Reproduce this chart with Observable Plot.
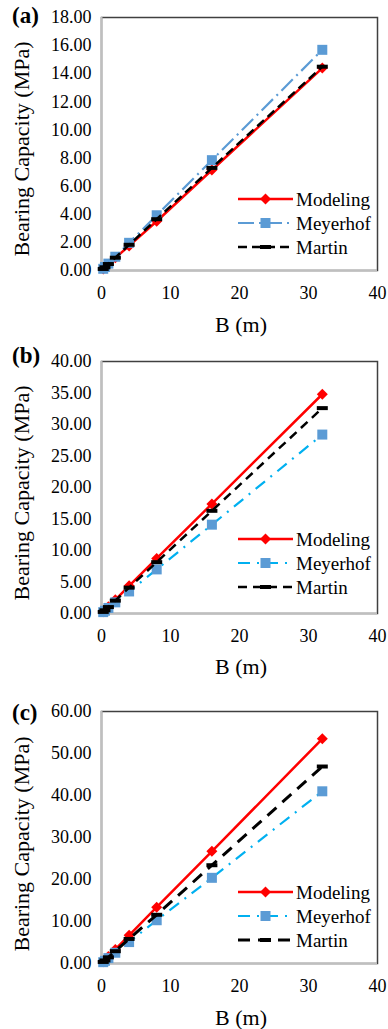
<!DOCTYPE html>
<html>
<head>
<meta charset="utf-8">
<script src="https://cdn.jsdelivr.net/npm/d3@7"></script>
<script src="https://cdn.jsdelivr.net/npm/@observablehq/plot@0.6"></script>
<style>
  body { margin: 0; background: #fff; font-family: "Liberation Serif", "DejaVu Serif", serif; }
  #root { position: relative; width: 388px; }
  .panel { position: relative; width: 388px; }
  .panel > svg { display: block; }
  .plabel { position: absolute; font-weight: bold; font-size: 23px; color: #000; line-height: 1; font-family: "Liberation Serif", serif; }
  .ylabel { position: absolute; font-size: 22px; color: #000; white-space: nowrap; transform: translate(-50%, -50%) rotate(-90deg); line-height: 1; font-family: "Liberation Serif", serif; }
  .xlabel { position: absolute; font-size: 22px; color: #000; white-space: nowrap; transform: translate(-50%, -50%); line-height: 1; font-family: "Liberation Serif", serif; }
  .lrow { position: absolute; display: flex; align-items: center; white-space: nowrap; font-size: 19px; color: #000; line-height: 1; font-family: "Liberation Serif", serif; }
  .lrow svg { display: block; margin-right: 3px; }
</style>
</head>
<body>
<div id="root"></div>
<script>
// ---------- data ----------
const B = [0.25, 0.5, 1, 2, 4, 8, 16, 32];
const seriesNames = ["Modeling", "Meyerhof", "Martin"];
const panelLabels = ["(a)", "(b)", "(c)"];

const modelingA = [0.11, 0.22, 0.45, 0.9, 1.75, 3.5, 7.15, 14.4];
const meyerhofA = [0.12, 0.25, 0.49, 0.98, 1.97, 3.93, 7.85, 15.7];
const martinA   = [0.11, 0.23, 0.46, 0.91, 1.83, 3.65, 7.3, 14.5];

const modelingB = [0.27, 0.55, 1.09, 2.18, 4.4, 8.75, 17.4, 34.8];
const meyerhofB = [0.22, 0.44, 0.88, 1.77, 3.5, 7.0, 14.1, 28.4];
const martinB   = [0.25, 0.51, 1.02, 2.04, 4.1, 8.15, 16.3, 32.6];

const modelingC = [0.42, 0.84, 1.68, 3.35, 6.7, 13.4, 26.7, 53.5];
const meyerhofC = [0.32, 0.64, 1.28, 2.56, 5.1, 10.3, 20.4, 41.0];
const martinC   = [0.37, 0.73, 1.47, 2.93, 5.85, 11.6, 23.4, 46.9];

const yTicksA = [0, 2, 4, 6, 8, 10, 12, 14, 16, 18];
const yTicksB = [0, 5, 10, 15, 20, 25, 30, 35, 40];
const yTicksC = [0, 10, 20, 30, 40, 50, 60];
const xTicks = [0, 10, 20, 30, 40];

// ---------- styles ----------
const FONT = '"Liberation Serif", serif';
const diamondSym = { draw(ctx) { const s = 5.5; ctx.moveTo(0, -s); ctx.lineTo(s, 0); ctx.lineTo(0, s); ctx.lineTo(-s, 0); ctx.closePath(); } };
const squareSym = { draw(ctx) { const s = 5; ctx.moveTo(-s, -s); ctx.lineTo(s, -s); ctx.lineTo(s, s); ctx.lineTo(-s, s); ctx.closePath(); } };
const barSym = { draw(ctx) { const w = 5.5, h = 2; ctx.moveTo(-w, -h); ctx.lineTo(w, -h); ctx.lineTo(w, h); ctx.lineTo(-w, h); ctx.closePath(); } };

const panels = [
  {
    label: panelLabels[0], data: [modelingA, meyerhofA, martinA], yTicks: yTicksA,
    height: 340, mt: 17, mb: 70, labelTop: 4, yLabelY: 149, xLabelY: 325, legendTop: 199,
    styles: [
      { stroke: "#FF0000", width: 2.5, dash: null, fill: "#FF0000", sym: diamondSym },
      { stroke: "#5B9BD5", width: 2.2, dash: "16,5,2,5", fill: "#5B9BD5", sym: squareSym },
      { stroke: "#000000", width: 2.5, dash: "9,5", fill: "#000000", sym: barSym }
    ]
  },
  {
    label: panelLabels[1], data: [modelingB, meyerhofB, martinB], yTicks: yTicksB,
    height: 340, mt: 21, mb: 67, labelTop: 4, yLabelY: 153, xLabelY: 327, legendTop: 199,
    styles: [
      { stroke: "#FF0000", width: 2.5, dash: null, fill: "#FF0000", sym: diamondSym },
      { stroke: "#00B0F0", width: 2.2, dash: "12,7,2,7", fill: "#5B9BD5", sym: squareSym },
      { stroke: "#000000", width: 2.5, dash: "9,6", fill: "#000000", sym: barSym }
    ]
  },
  {
    label: panelLabels[2], data: [modelingC, meyerhofC, martinC], yTicks: yTicksC,
    height: 349, mt: 31, mb: 66, labelTop: 21, yLabelY: 164, xLabelY: 338, legendTop: 212,
    styles: [
      { stroke: "#FF0000", width: 2.5, dash: null, fill: "#FF0000", sym: diamondSym },
      { stroke: "#00B0F0", width: 2.2, dash: "12,7,2,7", fill: "#5B9BD5", sym: squareSym },
      { stroke: "#000000", width: 3, dash: "12,8", fill: "#000000", sym: barSym }
    ]
  }
];

const root = document.getElementById("root");
const W = 388, ML = 101, MR = 11;

panels.forEach(p => {
  const yMax = p.yTicks[p.yTicks.length - 1];
  const rows = [];
  p.data.forEach((vals, si) => vals.forEach((v, i) => rows.push({ B: B[i], q: v, s: si })));
  const marks = [
    Plot.frame({ stroke: "#404040", strokeWidth: 1.5 }),
    Plot.ruleX([0], { stroke: "#BFBFBF", strokeWidth: 2 }),
    Plot.ruleY([0], { stroke: "#BFBFBF", strokeWidth: 2 })
  ];
  p.styles.forEach((st, si) => {
    const d = rows.filter(r => r.s === si);
    marks.push(Plot.line(d, { x: "B", y: "q", stroke: st.stroke, strokeWidth: st.width, strokeDasharray: st.dash, strokeLinecap: "butt" }));
    marks.push(Plot.dot(d, { x: "B", y: "q", symbol: st.sym, fill: st.fill, stroke: "none", r: 5 }));
  });
  marks.push(Plot.axisX({ ticks: xTicks, tickSize: 0, tickPadding: 16, label: null, fontSize: 18 }));
  marks.push(Plot.axisY({ ticks: p.yTicks, tickSize: 0, tickPadding: 10, label: null, tickFormat: d3.format(".2f"), fontSize: 18 }));

  const chart = Plot.plot({
    width: W, height: p.height,
    marginLeft: ML, marginRight: MR, marginTop: p.mt, marginBottom: p.mb,
    style: { fontFamily: FONT, fontSize: "18px", color: "#000", background: "#fff" },
    x: { domain: [0, 40] },
    y: { domain: [0, yMax] },
    marks
  });

  const div = document.createElement("div");
  div.className = "panel";
  div.style.height = p.height + "px";
  div.appendChild(chart);

  const pl = document.createElement("div");
  pl.className = "plabel"; pl.textContent = p.label;
  pl.style.left = "12px"; pl.style.top = p.labelTop + "px";
  div.appendChild(pl);

  const yl = document.createElement("div");
  yl.className = "ylabel"; yl.textContent = "Bearing Capacity (MPa)";
  yl.style.left = "22px"; yl.style.top = p.yLabelY + "px";
  div.appendChild(yl);

  const xl = document.createElement("div");
  xl.className = "xlabel"; xl.textContent = "B (m)";
  xl.style.left = "241px"; xl.style.top = p.xLabelY + "px";
  div.appendChild(xl);

  p.styles.forEach((st, si) => {
    const row = document.createElement("div");
    row.className = "lrow";
    row.style.left = "238px";
    row.style.top = (p.legendTop + si * 24 - 10) + "px";
    row.style.height = "20px";
    const ns = "http://www.w3.org/2000/svg";
    const sv = document.createElementNS(ns, "svg");
    sv.setAttribute("width", 55); sv.setAttribute("height", 16);
    const ln = document.createElementNS(ns, "line");
    ln.setAttribute("x1", 0); ln.setAttribute("x2", 55); ln.setAttribute("y1", 8); ln.setAttribute("y2", 8);
    ln.setAttribute("stroke", st.stroke); ln.setAttribute("stroke-width", st.width);
    if (st.dash) ln.setAttribute("stroke-dasharray", st.dash);
    sv.appendChild(ln);
    const mk = document.createElementNS(ns, "path");
    const ctx = d3.path(); st.sym.draw(ctx);
    mk.setAttribute("d", ctx.toString());
    mk.setAttribute("transform", "translate(27.5,8)");
    mk.setAttribute("fill", st.fill);
    sv.appendChild(mk);
    row.appendChild(sv);
    const tx = document.createElement("span");
    tx.textContent = seriesNames[si];
    row.appendChild(tx);
    div.appendChild(row);
  });

  root.appendChild(div);
});
</script>
</body>
</html>
